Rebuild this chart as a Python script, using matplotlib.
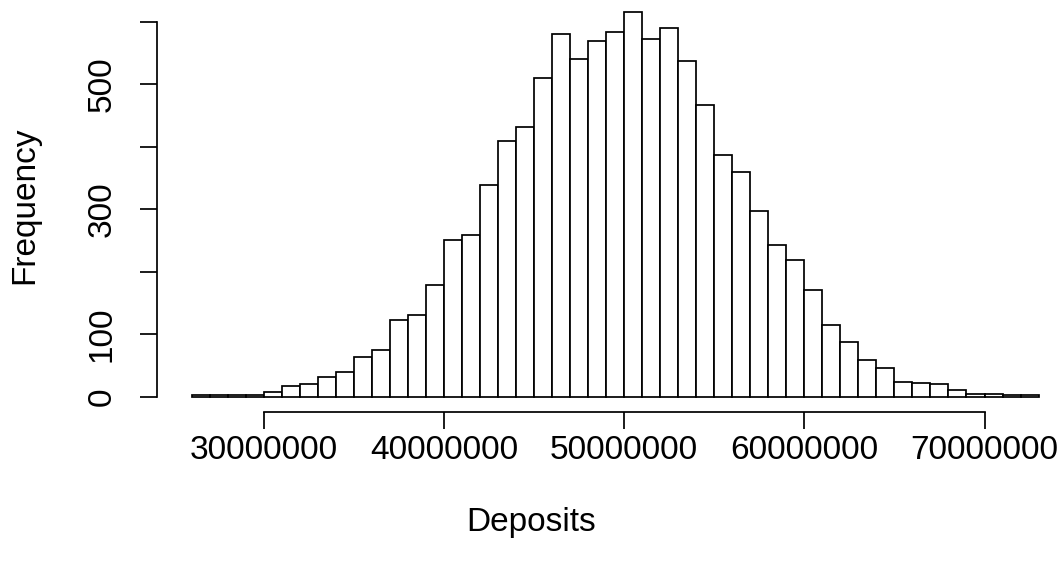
import numpy as np
import matplotlib.pyplot as plt

plt.rcParams['font.family'] = ['Liberation Sans', 'DejaVu Sans']

# histogram of deposits, 1,000,000-wide bins from 26M to 73M
binStart = 26000000
binWidth = 1000000
counts = [3, 2, 3, 3, 7, 17, 21, 31, 40, 63,
          75, 123, 130, 179, 250, 259, 339, 409, 432, 510,
          581, 540, 569, 583, 615, 573, 590, 537, 467, 387,
          359, 297, 242, 218, 170, 114, 88, 58, 46, 23,
          22, 21, 11, 5, 5, 3, 2]
xTicks = [30000000, 40000000, 50000000, 60000000, 70000000]
yTicks = [0, 100, 200, 300, 400, 500, 600]
yTickLabels = ['0', '100', '', '300', '', '500', '']

edges = binStart + binWidth*np.arange(len(counts)+1)

W, H = 1060, 564
fig = plt.figure(figsize=(W/100, H/100), dpi=100)
# axes box in pixels: left spine at x=157, bottom spine at y=412
left, bottom, right, top = 157, 412, 1050, 5
ax = fig.add_axes([left/W, 1-bottom/H, (right-left)/W, (bottom-top)/H])

pxPerM = 18.02
x0 = 30 - (263.7-left)/pxPerM
x1 = 30 + (right-263.7)/pxPerM
ax.set_xlim(x0*1e6, x1*1e6)
ax.set_ylim(-(bottom-396.7)/0.625, (396.7-top)/0.625)

lw = 1.25
ax.bar(edges[:-1], counts, width=binWidth, align='edge',
       facecolor='white', edgecolor='black', linewidth=lw)

for s in ['top', 'right']:
    ax.spines[s].set_visible(False)
ax.spines['left'].set_bounds(0, 600)
ax.spines['bottom'].set_bounds(30000000, 70000000)
ax.spines['left'].set_linewidth(lw)
ax.spines['bottom'].set_linewidth(lw)

ax.set_xticks(xTicks)
ax.set_xticklabels([str(v) for v in xTicks])
ax.set_yticks(yTicks)
ax.set_yticklabels(yTickLabels, rotation=90, va='center')
ax.tick_params(direction='out', length=12.5, width=lw, labelsize=24)
ax.tick_params(axis='x', pad=4)
ax.tick_params(axis='y', pad=16)

fig.text(531/W, 1-522/H, 'Deposits', ha='center', va='center', fontsize=24)
fig.text(25/W, 1-205/H, 'Frequency', ha='center', va='center',
         rotation=90, fontsize=24)

fig.savefig('out.png', dpi=100)
